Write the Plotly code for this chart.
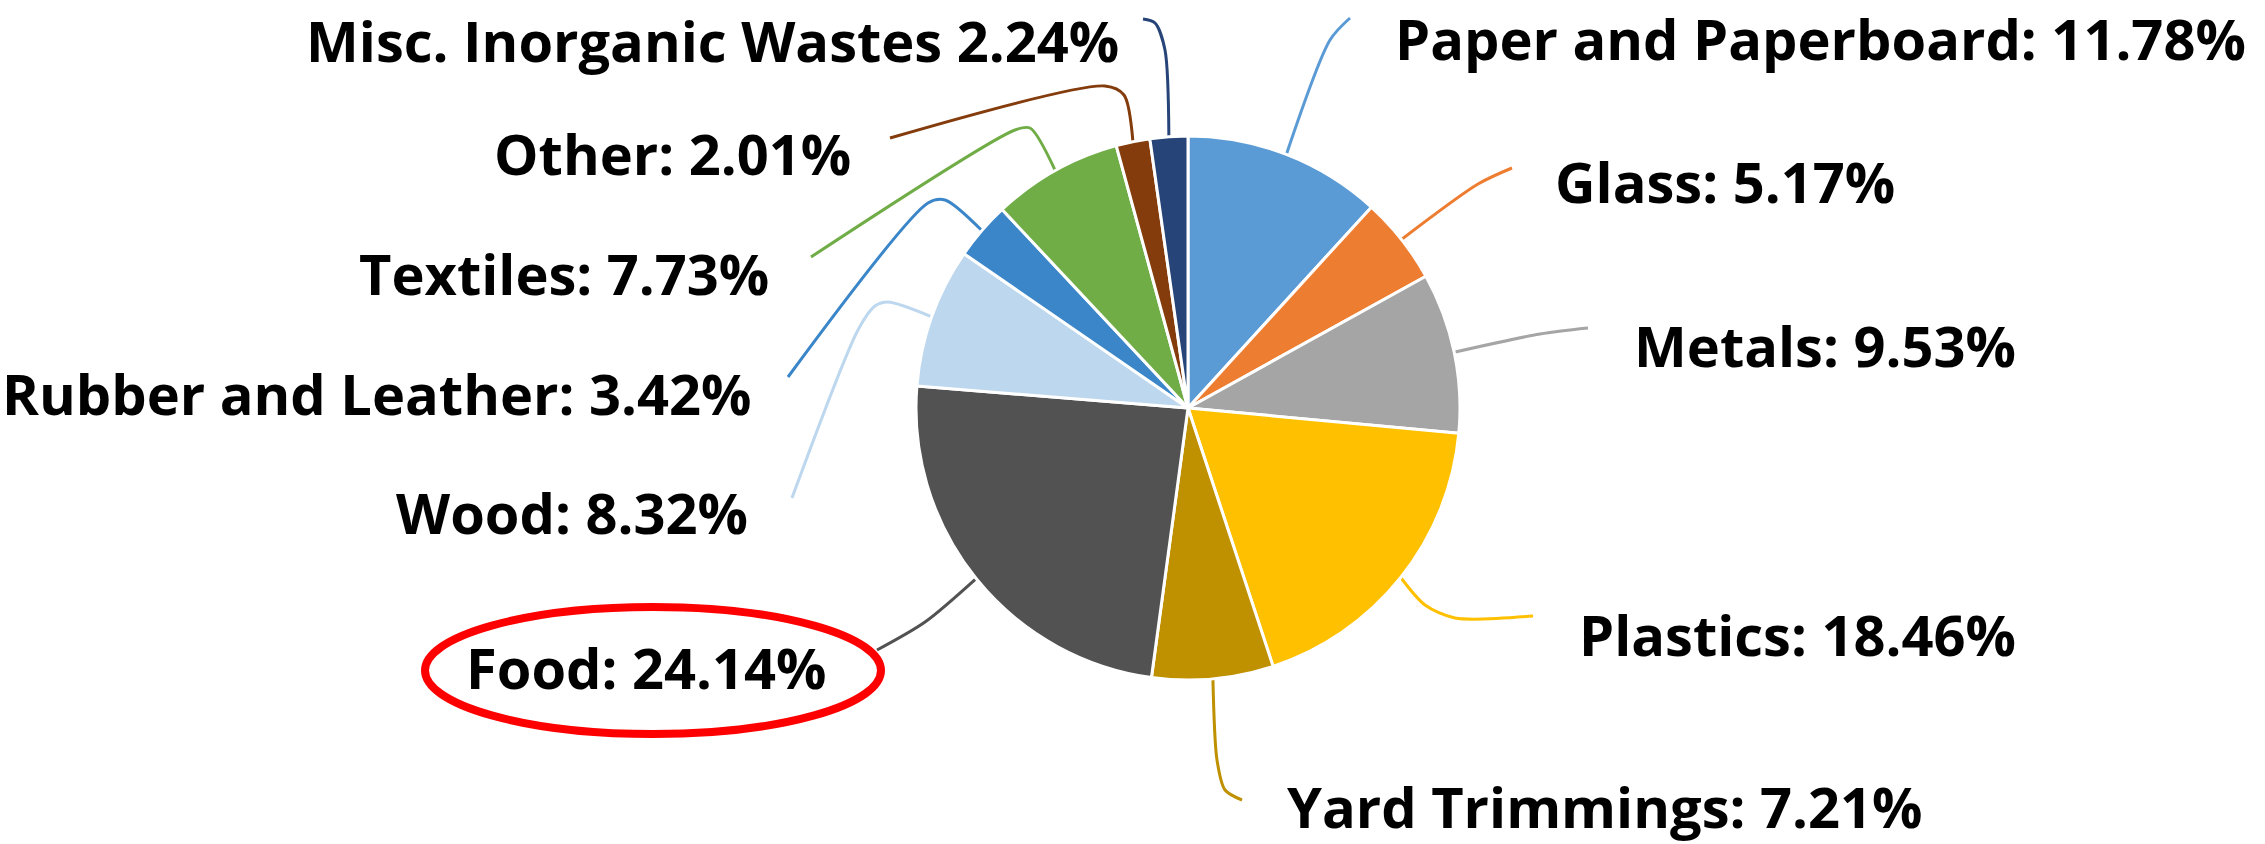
import math
import plotly.graph_objects as go

# ---------------- data ----------------
categories = ["Paper and Paperboard", "Glass", "Metals", "Plastics", "Yard Trimmings",
              "Food", "Wood", "Rubber and Leather", "Textiles", "Other",
              "Misc. Inorganic Wastes"]
shares = [11.78, 5.17, 9.53, 18.46, 7.21, 24.14, 8.32, 3.42, 7.73, 2.01, 2.24]
separators = [": ", ": ", ": ", ": ", ": ", ": ", ": ", ": ", ": ", ": ", " "]
colors = ["#5B9BD5", "#ED7D31", "#A5A5A5", "#FFC000", "#BF9000", "#525252",
          "#BDD7EE", "#3A86C8", "#70AD47", "#843C0C", "#264478"]

# ---------------- layout constants (pixels) ----------------
W, H = 2265, 844
CX, CY, R = 1188, 408, 272
FONT_SIZE = 56
CAP_SHIFT = -2  # text-box centre relative to the cap-height centre

# label anchor (x, cap-centre y, anchor)
label_pos = [
    (1393, 40, "left"),
    (1553, 183, "left"),
    (1632, 347, "left"),
    (1577, 636, "left"),
    (1285, 808, "left"),
    (646, 669, "center"),
    (750, 514, "right"),
    (754, 395, "right"),
    (771, 275, "right"),
    (853, 155, "right"),
    (1121, 42, "right"),
]
# leader-line bend and end points (start is computed from the slice)
leader_via = [
    [(1330, 40), (1350, 18)],
    [(1478, 184), (1512, 168)],
    [(1540, 334), (1588, 328)],
    [(1425, 605), (1455, 618), (1533, 616)],
    [(1217, 760), (1225, 790), (1242, 800)],
    [(925, 622), (877, 650)],
    [(888, 302), (875, 306), (858, 330), (792, 498)],
    [(945, 200), (928, 203), (788, 377)],
    [(1030, 128), (1015, 130), (811, 257)],
    [(1124, 95), (1105, 86), (890, 138)],
    [(1165, 50), (1155, 23), (1143, 19)],
]
ellipse_box = (425, 881, 607, 734)

fig = go.Figure()

# pie
fig.add_trace(go.Pie(
    labels=categories, values=shares, sort=False, direction="clockwise", rotation=0,
    marker=dict(colors=colors, line=dict(color="white", width=3)),
    textinfo="none", hoverinfo="label+percent", showlegend=False,
    domain=dict(x=[(CX - R) / W, (CX + R) / W], y=[(H - CY - R) / H, (H - CY + R) / H]),
))

# leader lines starting at the middle of each slice's outer edge
total = sum(shares)
cum = 0.0
for i, v in enumerate(shares):
    mid = (cum + v / 2) / total * 2 * math.pi
    cum += v
    sx = CX + R * math.sin(mid)
    sy = CY - R * math.cos(mid)
    pts = [(sx, sy)] + leader_via[i]
    fig.add_trace(go.Scatter(
        x=[p[0] for p in pts], y=[p[1] for p in pts], mode="lines",
        line=dict(color=colors[i], width=3, shape="spline", smoothing=0.8),
        hoverinfo="skip", showlegend=False,
    ))

# labels
for i, name in enumerate(categories):
    lx, ly, anc = label_pos[i]
    fig.add_annotation(
        x=lx, y=ly + CAP_SHIFT, xref="x", yref="y",
        text=f"{name}{separators[i]}{shares[i]:.2f}%",
        showarrow=False, xanchor=anc, yanchor="middle",
        font=dict(family="Open Sans", size=FONT_SIZE, color="black", weight="bold"),
    )

# red highlight ellipse
x0, x1, y0, y1 = ellipse_box
fig.add_shape(type="circle", xref="x", yref="y", x0=x0, x1=x1, y0=y0, y1=y1,
              line=dict(color="#FF0000", width=8), fillcolor="rgba(0,0,0,0)")

fig.update_layout(
    width=W, height=H, margin=dict(l=0, r=0, t=0, b=0),
    paper_bgcolor="white", plot_bgcolor="white",
    xaxis=dict(range=[0, W], visible=False, fixedrange=True),
    yaxis=dict(range=[H, 0], visible=False, fixedrange=True),
)

fig.write_html("out.html", config={"displayModeBar": False},
               post_script="document.body.style.margin='0';document.body.style.overflow='hidden';")
